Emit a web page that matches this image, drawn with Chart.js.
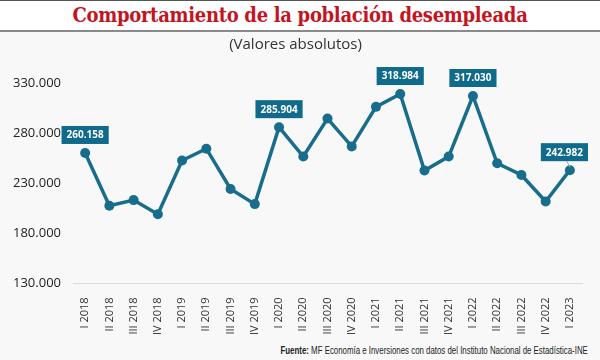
<!DOCTYPE html>
<html>
<head>
<meta charset="utf-8">
<script src="https://cdn.jsdelivr.net/npm/chart.js@4"></script>
<style>
  html, body { margin: 0; padding: 0; }
  body { width: 600px; height: 360px; background: #f8f8f8; position: relative; overflow: hidden; }
  #header {
    position: absolute; left: 0; top: 0; width: 600px; height: 29px;
    background: #ffffff; border-top: 1px solid #555; border-bottom: 2px solid #8a8a8a;
    text-align: center;
  }
  #header h1 {
    margin: 0; font-family: "DejaVu Serif", serif; font-stretch: condensed; font-weight: bold;
    font-size: 20px; line-height: 29px; color: #c3151f; letter-spacing: -0.3px;
  }
  #chart-box { position: absolute; left: 0; top: 32px; width: 600px; height: 309px; }
  #footer {
    position: absolute; right: 12px; top: 344px;
    font-family: "Liberation Sans", sans-serif; font-size: 11px; color: #222;
    white-space: nowrap; transform: scaleX(0.715); transform-origin: right center;
  }
</style>
</head>
<body>
<div id="header"><h1>Comportamiento de la población desempleada</h1></div>
<div id="chart-box"><canvas id="unemployment-chart"></canvas></div>
<div id="footer"><b>Fuente:</b> MF Economía e Inversiones con datos del Instituto Nacional de Estadística-INE</div>

<script>
const quarters = [
  "I 2018", "II 2018", "III 2018", "IV 2018",
  "I 2019", "II 2019", "III 2019", "IV 2019",
  "I 2020", "II 2020", "III 2020", "IV 2020",
  "I 2021", "II 2021", "III 2021", "IV 2021",
  "I 2022", "II 2022", "III 2022", "IV 2022",
  "I 2023",
];

const unemployed = [
  260158, 207400, 213100, 199000,
  252600, 264400, 224200, 209100,
  285904, 256600, 294500, 266700,
  306200, 318984, 242600, 256600,
  317030, 249900, 238200, 211700,
  242982,
];

// points that get a value box
const labelledQuarters = ["I 2018", "I 2020", "II 2021", "I 2022", "I 2023"];

const yTicks = [130000, 180000, 230000, 280000, 330000];

const lineColor = "#176d8b";
const boxColor = "#0f6a8c";

function formatThousands(v) {
  return v.toString().replace(/\B(?=(\d{3})+(?!\d))/g, ".");
}

/**
 * Draw the value boxes above selected points
 */
const valueBoxes = {
  id: "valueBoxes",
  afterDatasetsDraw(chart) {
    const ctx = chart.ctx;
    const meta = chart.getDatasetMeta(0);
    ctx.save();
    ctx.font = "bold 10px 'Open Sans'";
    ctx.textAlign = "center";
    ctx.textBaseline = "middle";
    meta.data.forEach((pt, i) => {
      if (!labelledQuarters.includes(quarters[i])) return;
      const text = formatThousands(unemployed[i]);
      const w = ctx.measureText(text).width + 10;
      const h = 18;
      let cx = pt.x;
      if (cx + w / 2 > chart.width - 12) {
        // box pushed left, small leader line to the point
        cx = chart.width - 12 - w / 2;
        ctx.strokeStyle = "#9ab";
        ctx.lineWidth = 1;
        ctx.beginPath();
        ctx.moveTo(pt.x - 3, pt.y - 9);
        ctx.lineTo(pt.x, pt.y - 3);
        ctx.stroke();
      }
      const bottom = pt.y - 9;
      ctx.fillStyle = boxColor;
      ctx.fillRect(cx - w / 2, bottom - h, w, h);
      ctx.fillStyle = "#ffffff";
      ctx.fillText(text, cx, bottom - h / 2 + 0.5);
    });
    ctx.restore();
  },
};

function initializeChart() {
  const ctx = document.getElementById("unemployment-chart");
  if (!ctx) return;

  new Chart(ctx, {
    type: "line",
    data: {
      labels: quarters,
      datasets: [
        {
          data: unemployed,
          borderColor: lineColor,
          backgroundColor: lineColor,
          borderWidth: 3.5,
          pointRadius: 5,
          pointBackgroundColor: lineColor,
          pointBorderWidth: 0,
          tension: 0,
        },
      ],
    },
    options: {
      responsive: true,
      maintainAspectRatio: false,
      animation: false,
      layout: { padding: { left: 9, right: 18, top: 0, bottom: 0 } },
      plugins: {
        legend: { display: false },
        tooltip: { enabled: false },
        title: {
          display: true,
          text: "(Valores absolutos)",
          color: "#333",
          font: { family: "'Open Sans'", size: 15, weight: "normal" },
          padding: { top: 4, bottom: 29 },
        },
      },
      scales: {
        x: {
          offset: true,
          grid: { display: false },
          border: { display: true, color: "#dcdcdc", width: 1 },
          ticks: {
            minRotation: 90,
            maxRotation: 90,
            color: "#333",
            padding: 6,
            font: { family: "'Open Sans'", size: 11 },
          },
        },
        y: {
          min: yTicks[0],
          max: yTicks[yTicks.length - 1],
          afterBuildTicks(axis) {
            axis.ticks = yTicks.map((v) => ({ value: v }));
          },
          grid: { display: false },
          border: { display: false },
          ticks: {
            color: "#222",
            padding: 4,
            font: { family: "'Open Sans'", size: 13 },
            callback: (v) => formatThousands(v),
          },
        },
      },
    },
    plugins: [valueBoxes],
  });
}

if (document.readyState === "loading") {
  document.addEventListener("DOMContentLoaded", initializeChart);
} else {
  initializeChart();
}
</script>
</body>
</html>
